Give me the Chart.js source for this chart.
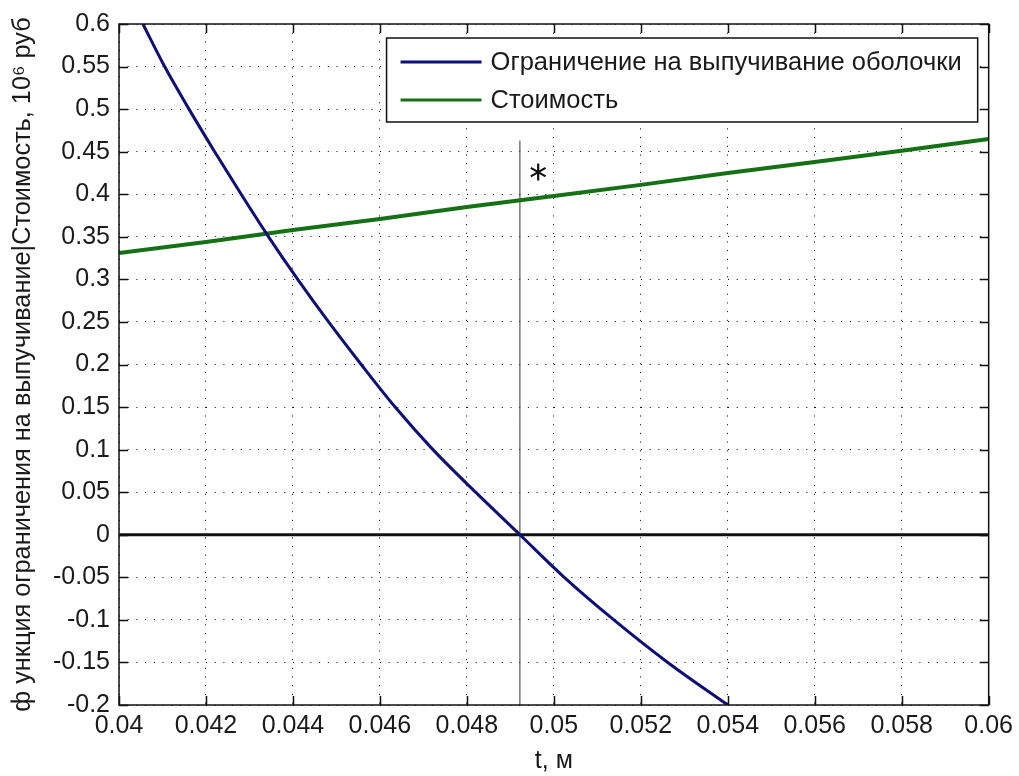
<!DOCTYPE html>
<html>
<head>
<meta charset="utf-8">
<script src="https://cdn.jsdelivr.net/npm/chart.js@4"></script>
<style>
  body { margin: 0; background: #fff; }
  canvas { display: block; }
</style>
</head>
<body>
<canvas id="chart" width="1019" height="776"></canvas>
<script>
// values
const tBuckling = [0.04055, 0.04105, 0.04161, 0.04220, 0.04281, 0.04344, 0.04411, 0.04482, 0.04557,
  0.04635, 0.04722, 0.04820, 0.04922, 0.05024, 0.05138, 0.05262, 0.05400];
const gBuckling = [0.6, 0.55, 0.5, 0.45, 0.4, 0.35, 0.3, 0.25, 0.2,
  0.15, 0.1, 0.05, 0, -0.05, -0.1, -0.15, -0.2];

const tCost = [0.04, 0.042, 0.044, 0.046, 0.048, 0.05, 0.052, 0.054, 0.056, 0.058, 0.06];
const cost = [0.331, 0.344, 0.358, 0.371, 0.385, 0.398, 0.411, 0.425, 0.438, 0.451, 0.465];

const zeroLineT = [0.04, 0.06];
const tOptimum = 0.04922;
const optimumSpan = [-0.2, 0.463];
const starPoint = [0.04964, 0.426];

const xTicks = [0.04, 0.042, 0.044, 0.046, 0.048, 0.05, 0.052, 0.054, 0.056, 0.058, 0.06];
const yTicks = [-0.2, -0.15, -0.1, -0.05, 0, 0.05, 0.1, 0.15, 0.2, 0.25, 0.3, 0.35, 0.4, 0.45, 0.5, 0.55, 0.6];

const seriesLabels = ['Ограничение на выпучивание оболочки', 'Стоимость'];
const xTitle = 't, м';
const yTitle = 'ф ункция ограничения на выпучивание|Стоимость, 10⁶ руб';

const FONT = '"Liberation Sans", Arial, sans-serif';
const TEXT = '#1a1a1a';

function fmt(v) {
  return String(Math.round(v * 10000) / 10000);
}

// frame, inward ticks, the "*" mark and the boxed legend
const matlabLook = {
  id: 'matlabLook',
  afterDatasetsDraw(chart) {
    const { ctx, chartArea: a, scales: { x, y } } = chart;
    ctx.save();
    ctx.strokeStyle = '#111';
    ctx.lineWidth = 1.5;
    ctx.strokeRect(a.left, a.top, a.right - a.left, a.bottom - a.top);

    ctx.beginPath();
    xTicks.forEach(v => {
      const px = Math.round(x.getPixelForValue(v)) + 0.5;
      ctx.moveTo(px, a.bottom); ctx.lineTo(px, a.bottom - 9);
      ctx.moveTo(px, a.top); ctx.lineTo(px, a.top + 9);
    });
    yTicks.forEach(v => {
      const py = Math.round(y.getPixelForValue(v)) + 0.5;
      ctx.moveTo(a.left, py); ctx.lineTo(a.left + 9, py);
      ctx.moveTo(a.right, py); ctx.lineTo(a.right - 9, py);
    });
    ctx.stroke();

    // asterisk label near the optimum
    const sx = x.getPixelForValue(starPoint[0]);
    const sy = y.getPixelForValue(starPoint[1]);
    ctx.lineWidth = 2.2;
    ctx.beginPath();
    [90, 30, 150].forEach(deg => {
      const r = deg * Math.PI / 180;
      ctx.moveTo(sx - 8.5 * Math.cos(r), sy - 8.5 * Math.sin(r));
      ctx.lineTo(sx + 8.5 * Math.cos(r), sy + 8.5 * Math.sin(r));
    });
    ctx.stroke();

    // legend box
    ctx.font = '25.5px ' + FONT;
    const textW = Math.max(...seriesLabels.map(l => ctx.measureText(l).width));
    const boxW = 14 + 81 + 9 + textW + 16;
    const boxH = 84;
    const boxR = a.right - 11;
    const boxT = a.top + 14;
    const boxL = boxR - boxW;
    ctx.fillStyle = '#fff';
    ctx.fillRect(boxL, boxT, boxW, boxH);
    ctx.lineWidth = 1.5;
    ctx.strokeStyle = '#111';
    ctx.strokeRect(boxL, boxT, boxW, boxH);
    seriesLabels.forEach((label, i) => {
      const ds = chart.data.datasets[i];
      const ry = boxT + 24 + i * 38;
      ctx.strokeStyle = ds.borderColor;
      ctx.lineWidth = 3;
      ctx.beginPath();
      ctx.moveTo(boxL + 14, ry);
      ctx.lineTo(boxL + 95, ry);
      ctx.stroke();
      ctx.fillStyle = TEXT;
      ctx.textBaseline = 'middle';
      ctx.textAlign = 'left';
      ctx.fillText(label, boxL + 104, ry + 1);
    });
    ctx.restore();
  }
};

const ctx = document.getElementById('chart').getContext('2d');
new Chart(ctx, {
  type: 'scatter',
  data: {
    datasets: [
      {
        label: seriesLabels[0],
        data: tBuckling.map((t, i) => ({ x: t, y: gBuckling[i] })),
        showLine: true,
        borderColor: 'rgb(14, 14, 120)',
        borderWidth: 3,
        pointRadius: 0,
        cubicInterpolationMode: 'monotone'
      },
      {
        label: seriesLabels[1],
        data: tCost.map((t, i) => ({ x: t, y: cost[i] })),
        showLine: true,
        borderColor: 'rgb(22, 112, 22)',
        borderWidth: 4,
        pointRadius: 0
      },
      {
        label: 'zero',
        data: zeroLineT.map(t => ({ x: t, y: 0 })),
        showLine: true,
        borderColor: '#111',
        borderWidth: 3,
        pointRadius: 0
      },
      {
        label: 'optimum',
        data: optimumSpan.map(v => ({ x: tOptimum, y: v })),
        showLine: true,
        borderColor: '#333',
        borderWidth: 1,
        pointRadius: 0
      }
    ]
  },
  options: {
    responsive: false,
    animation: false,
    layout: { padding: { top: 21, right: 29, left: 0, bottom: 0 } },
    plugins: {
      legend: { display: false },
      tooltip: { enabled: false }
    },
    scales: {
      x: {
        type: 'linear',
        min: 0.04,
        max: 0.06,
        afterBuildTicks: s => { s.ticks = xTicks.map(v => ({ value: v })); },
        afterFit: s => { s.height = 71; },
        grid: { color: '#000', lineWidth: 1, drawTicks: false },
        border: { display: false, dash: [1, 7.7] },
        ticks: {
          padding: 6,
          color: TEXT,
          font: { family: FONT, size: 25 },
          maxRotation: 0,
          callback: v => fmt(v)
        },
        title: {
          display: true,
          text: xTitle,
          color: TEXT,
          font: { family: FONT, size: 25 },
          padding: { top: 0, bottom: 0 }
        }
      },
      y: {
        type: 'linear',
        min: -0.2,
        max: 0.6,
        afterBuildTicks: s => { s.ticks = yTicks.map(v => ({ value: v })); },
        afterFit: s => { s.width = 119; },
        grid: { color: '#000', lineWidth: 1, drawTicks: false },
        border: { display: false, dash: [1, 7.7] },
        ticks: {
          padding: 9,
          color: TEXT,
          font: { family: FONT, size: 25 },
          callback: v => fmt(v)
        },
        title: {
          display: true,
          text: yTitle,
          color: TEXT,
          font: { family: FONT, size: 25.3 },
          padding: { top: 8, bottom: 0 }
        }
      }
    }
  },
  plugins: [matlabLook]
});
</script>
</body>
</html>
